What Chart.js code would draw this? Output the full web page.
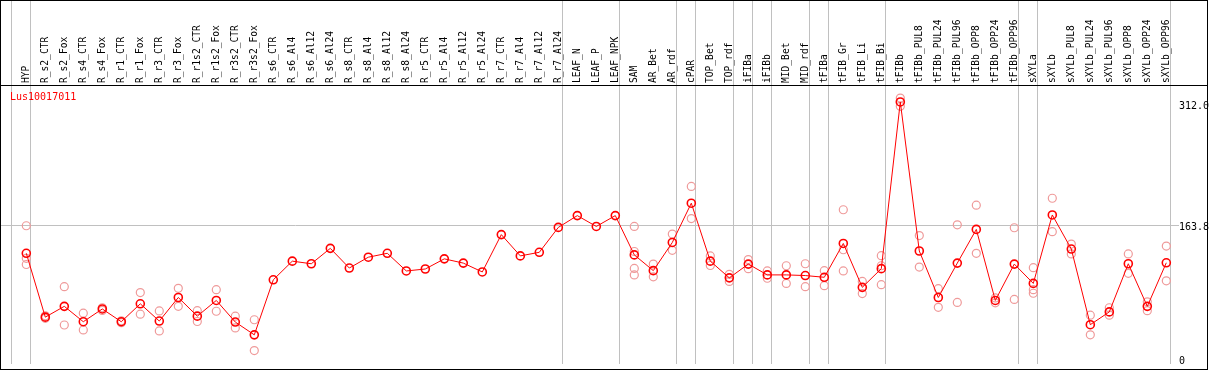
<!DOCTYPE html>
<html>
<head>
<meta charset="utf-8">
<script src="https://cdn.jsdelivr.net/npm/chart.js@4/dist/chart.umd.min.js"></script>
<style>
html,body{margin:0;padding:0;background:#fff;}
canvas{display:block;}
</style>
</head>
<body>
<canvas id="c" width="1209" height="370"></canvas>
<script>
const geneId = 'Lus10017011';

const categories = [
  'HYP','R_s2_CTR','R_s2_Fox','R_s4_CTR','R_s4_Fox','R_r1_CTR','R_r1_Fox','R_r3_CTR','R_r3_Fox',
  'R_r1s2_CTR','R_r1s2_Fox','R_r3s2_CTR','R_r3s2_Fox','R_s6_CTR','R_s6_Al4','R_s6_Al12','R_s6_Al24',
  'R_s8_CTR','R_s8_Al4','R_s8_Al12','R_s8_Al24','R_r5_CTR','R_r5_Al4','R_r5_Al12','R_r5_Al24',
  'R_r7_CTR','R_r7_Al4','R_r7_Al12','R_r7_Al24','LEAF_N','LEAF_P','LEAF_NPK','SAM','AR_Bet','AR_rdf',
  'cPAR','TOP_Bet','TOP_rdf','iFIBa','iFIBb','MID_Bet','MID_rdf','tFIBa','tFIB_Gr','tFIB_Li','tFIB_Bi',
  'tFIBb','tFIBb_PUL8','tFIBb_PUL24','tFIBb_PUL96','tFIBb_OPP8','tFIBb_OPP24','tFIBb_OPP96',
  'sXYLa','sXYLb','sXYLb_PUL8','sXYLb_PUL24','sXYLb_PUL96','sXYLb_OPP8','sXYLb_OPP24','sXYLb_OPP96'
];

const meanValues = [
  130.2, 52.2, 65.4, 46.6, 62.2, 46.6, 68.5, 47.4, 76.2, 53.4,
  72.6, 46.2, 30.6, 97.8, 120.6, 117.4, 136.2, 112.2, 125.4, 130.2,
  108.6, 111, 123.4, 118.2, 107.4, 153, 127, 131.4, 161.8, 176.2,
  163, 176.2, 128.2, 109, 143.4, 191.4, 120.6, 100.2, 117, 103.8,
  103.8, 103, 100.9, 142.2, 88.6, 111.4, 315, 133, 76.2, 118.2,
  159.4, 72.6, 117, 93.4, 177, 135.4, 43, 58.6, 117.4, 65.4, 118.6
];

const rep1 = [
  163.8, 53.8, 89.4, 57, 63.7, 47.8, 82.2, 59.8, 87.4, 60.1, 85.8, 53.4, 49,
  null, null, null, null, null, null, null, null, null, null, null, null, null, null, null, null, null, null, null,
  163, 117, 153.7, 211.8, 127, 104.5, 122.5, 108.6, 115, 117.4, 109, 183.4, 95.8, 127.3,
  319.8, 151.8, 87, 165, 189, 75.7, 161.4, 112.6, 197.4, 141.4, 54.6, 63.7, 129.4, 70.9, 139
];

const rep2 = [
  124, 50.8, 42.6, 36.6, 60.4, 45.4, 55.8, 35.4, 65.4, 46.9, 59.4, 39, 11.4,
  null, null, null, null, null, null, null, null, null, null, null, null, null, null, null, null, null, null, null,
  132.4, 101.4, 133.8, 172.6, 115.3, 95.8, 111.4, 99.7, 93.4, 89.4, 90.6, 134.5, 81, 115,
  309.7, 113.4, 64.2, 70.2, 130.2, 69.7, 73.8, 85.8, 156.6, 129.4, 30.6, 54.6, 105.7, 60.1, 96.6
];

const rep3 = [
  116.5, null, null, null, null, null, null, null, null, null, null, null, null,
  null, null, null, null, null, null, null, null, null, null, null, null, null, null, null, null, null, null, null,
  111.7, null, null, null, null, null, null, null, null, null, null, 108.6, null, 91.8,
  null, null, null, null, null, null, null, 81.4, null, null, null, null, null, null, null
];

const rep4 = [
  null, null, null, null, null, null, null, null, null, null, null, null, null,
  null, null, null, null, null, null, null, null, null, null, null, null, null, null, null, null, null, null, null,
  103.8, null, null, null, null, null, null, null, null, null, null, null, null, null,
  null, null, null, null, null, null, null, null, null, null, null, null, null, null, null
];

const yTickValues = [0, 163.8, 312.0];
const yTickLabels = ['0', '163.8', '312.0'];

// category indices after which a group separator is drawn
const groupEnds = [-1, 0, 28, 31, 34, 35, 37, 38, 39, 41, 42, 45, 52, 53, 60];

const X_MIN = -1.3316, X_MAX = 60.668;
const Y_MIN = -5.03, Y_MAX = 335.74;
const SEP_OFFSET = 0.215;

const toPts = arr => arr.map((v, i) => ({ x: i, y: v }));

const framePlugin = {
  id: 'frame',
  afterDraw(chart) {
    const ctx = chart.ctx;
    const a = chart.chartArea;
    ctx.save();
    ctx.strokeStyle = '#000';
    ctx.lineWidth = 1;
    ctx.strokeRect(0.5, 0.5, chart.width - 2, chart.height - 1);
    ctx.beginPath();
    ctx.moveTo(0, a.top + 0.5);
    ctx.lineTo(chart.width - 1, a.top + 0.5);
    ctx.stroke();
    ctx.fillStyle = '#ff0000';
    ctx.font = "10px 'DejaVu Sans Mono'";
    ctx.textBaseline = 'middle';
    ctx.textAlign = 'left';
    ctx.fillText(geneId, a.left + 9, a.top + 12.5);
    ctx.restore();
  }
};

const repStyle = {
  showLine: false,
  pointRadius: 4,
  pointBorderWidth: 1.2,
  pointBorderColor: '#ef9a9a',
  pointBackgroundColor: 'rgba(0,0,0,0)',
  borderColor: '#ef9a9a',
  order: 2,
  xAxisID: 'x',
  yAxisID: 'y'
};

new Chart(document.getElementById('c'), {
  type: 'line',
  data: {
    datasets: [
      {
        label: geneId,
        data: toPts(meanValues),
        borderColor: '#ff0000',
        borderWidth: 1,
        pointRadius: 4,
        pointBorderWidth: 1.6,
        pointBorderColor: '#ff0000',
        pointBackgroundColor: 'rgba(0,0,0,0)',
        tension: 0,
        order: 0,
        xAxisID: 'x',
        yAxisID: 'y'
      },
      Object.assign({ label: 'rep1', data: toPts(rep1) }, repStyle),
      Object.assign({ label: 'rep2', data: toPts(rep2) }, repStyle),
      Object.assign({ label: 'rep3', data: toPts(rep3) }, repStyle),
      Object.assign({ label: 'rep4', data: toPts(rep4) }, repStyle)
    ]
  },
  options: {
    responsive: false,
    animation: false,
    devicePixelRatio: 1,
    events: [],
    layout: { autoPadding: false, padding: { left: 1, right: 0, top: 0, bottom: 1 } },
    plugins: { legend: { display: false }, tooltip: { enabled: false } },
    scales: {
      x: {
        type: 'linear',
        axis: 'x',
        position: 'top',
        weight: 1,
        min: X_MIN,
        max: X_MAX,
        afterBuildTicks: s => { s.ticks = categories.map((c, i) => ({ value: i })); },
        afterFit: s => { s.height = 85; },
        grid: { display: false, drawTicks: false },
        border: { display: false },
        ticks: {
          autoSkip: false,
          minRotation: 90,
          maxRotation: 90,
          padding: 2,
          labelOffset: 12,
          color: '#000',
          font: { family: "'DejaVu Sans Mono', monospace", size: 9.6 },
          callback: v => categories[v] !== undefined ? categories[v] : ''
        }
      },
      xSep: {
        type: 'linear',
        axis: 'x',
        position: 'top',
        weight: 0,
        min: X_MIN,
        max: X_MAX,
        afterBuildTicks: s => { s.ticks = groupEnds.map(g => ({ value: g + SEP_OFFSET })); },
        afterFit: s => { s.height = 0; },
        grid: { color: '#c0c0c0', lineWidth: 1, tickLength: 85, drawTicks: true, drawOnChartArea: true },
        border: { display: false },
        ticks: { display: false }
      },
      y: {
        type: 'linear',
        position: 'right',
        min: Y_MIN,
        max: Y_MAX,
        afterBuildTicks: s => { s.ticks = yTickValues.map(v => ({ value: v })); },
        afterFit: s => { s.width = 30; },
        grid: {
          color: c => (c.tick && c.tick.value === 163.8) ? '#c0c0c0' : 'rgba(0,0,0,0)',
          lineWidth: 1,
          drawTicks: false
        },
        border: { display: false },
        ticks: {
          padding: 0,
          labelOffset: 2,
          color: '#000',
          font: { family: "'DejaVu Sans Mono', monospace", size: 10 },
          callback: (v, i) => yTickLabels[i]
        }
      }
    }
  },
  plugins: [framePlugin]
});
</script>
</body>
</html>
